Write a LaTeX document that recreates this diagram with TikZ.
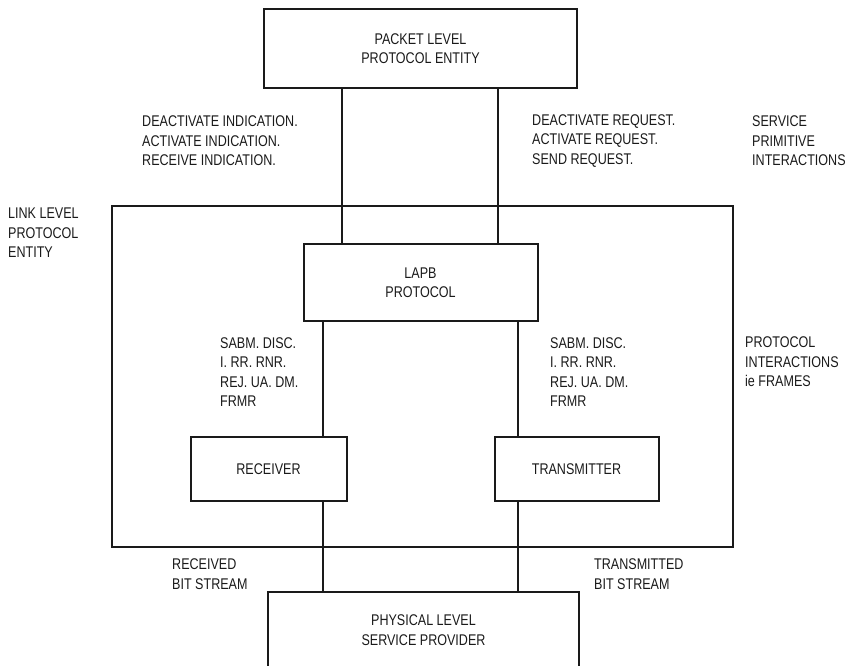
\documentclass[tikz,border=0pt]{standalone}
\usepackage{fontspec}
\setmainfont{Liberation Sans}[FakeStretch=0.81]
\usepackage{tikz}
\usetikzlibrary{positioning}
\definecolor{lapbink}{HTML}{1A1A1A}
\newcommand{\lapbfont}{\fontsize{15.5}{19.5}\selectfont}
\tikzset{%
  lapbbox/.style={%
    draw=lapbink,
    line width=2pt,
    align=center,
    inner sep=0pt,
    text=lapbink,
    font=\lapbfont
  },
  lapblabel/.style={%
    anchor=west,
    align=left,
    inner sep=0pt,
    text=lapbink,
    font=\lapbfont
  },
  lapbline/.style={draw=lapbink,line width=2pt}
}
\begin{document}
\begin{tikzpicture}[x=1pt,y=-1pt]
    \useasboundingbox (0,0) rectangle (855,665);
    \clip (0,0) rectangle (855,665);

    % boxes
    \node[lapbbox,minimum width=313pt,minimum height=79pt] (packet) at (420.5,48.5) {PACKET LEVEL\\PROTOCOL ENTITY};
    \node[lapbbox,minimum width=234pt,minimum height=77pt,below=154pt of packet] (lapb) {LAPB\\PROTOCOL};
    \node[lapbbox,minimum width=156pt,minimum height=64pt,below=114pt of lapb,xshift=-152pt] (rx) {RECEIVER};
    \node[lapbbox,minimum width=164pt,minimum height=64pt,below=114pt of lapb,xshift=156pt] (tx) {TRANSMITTER};
    \node[lapbbox,minimum width=621pt,minimum height=341pt] (link) at (422.5,376.5) {};
    \node[lapbbox,minimum width=311pt,minimum height=76pt] (phys) at (423.5,630) {PHYSICAL LEVEL\\SERVICE PROVIDER};

    % labels
    \node[lapblabel] (indic) at (142,141) {DEACTIVATE INDICATION.\\ACTIVATE INDICATION.\\RECEIVE INDICATION.};
    \node[lapblabel] (reqs) at (532,141) {DEACTIVATE REQUEST.\\ACTIVATE REQUEST.\\SEND REQUEST.};
    \node[lapblabel] (service) at (752,141) {SERVICE\\PRIMITIVE\\INTERACTIONS};
    \node[lapblabel] (linkname) at (8,233) {LINK LEVEL\\PROTOCOL\\ENTITY};
    \node[lapblabel] (rxframes) at (220,372) {SABM. DISC.\\I. RR. RNR.\\REJ. UA. DM.\\FRMR};
    \node[lapblabel] (txframes) at (550,372) {SABM. DISC.\\I. RR. RNR.\\REJ. UA. DM.\\FRMR};
    \node[lapblabel] (frames) at (745,362) {PROTOCOL\\INTERACTIONS\\ie FRAMES};
    \node[lapblabel] (rxbits) at (172,574) {RECEIVED\\BIT STREAM};
    \node[lapblabel] (txbits) at (594,574) {TRANSMITTED\\BIT STREAM};

    % connectors
    \coordinate (indicdrop) at ([xshift=79pt]packet.south west);
    \coordinate (reqdrop) at ([xshift=-80pt]packet.south east);
    \coordinate (rxdrop) at ([xshift=20pt]lapb.south west);
    \coordinate (txdrop) at ([xshift=-21pt]lapb.south east);
    \draw[lapbline] (indicdrop) -- (indicdrop |- lapb.north);
    \draw[lapbline] (reqdrop) -- (reqdrop |- lapb.north);
    \draw[lapbline] (rxdrop) -- (rxdrop |- rx.north);
    \draw[lapbline] (txdrop) -- (txdrop |- tx.north);
    \draw[lapbline] (rxdrop |- rx.south) -- (rxdrop |- phys.north);
    \draw[lapbline] (txdrop |- tx.south) -- (txdrop |- phys.north);
\end{tikzpicture}
\end{document}
